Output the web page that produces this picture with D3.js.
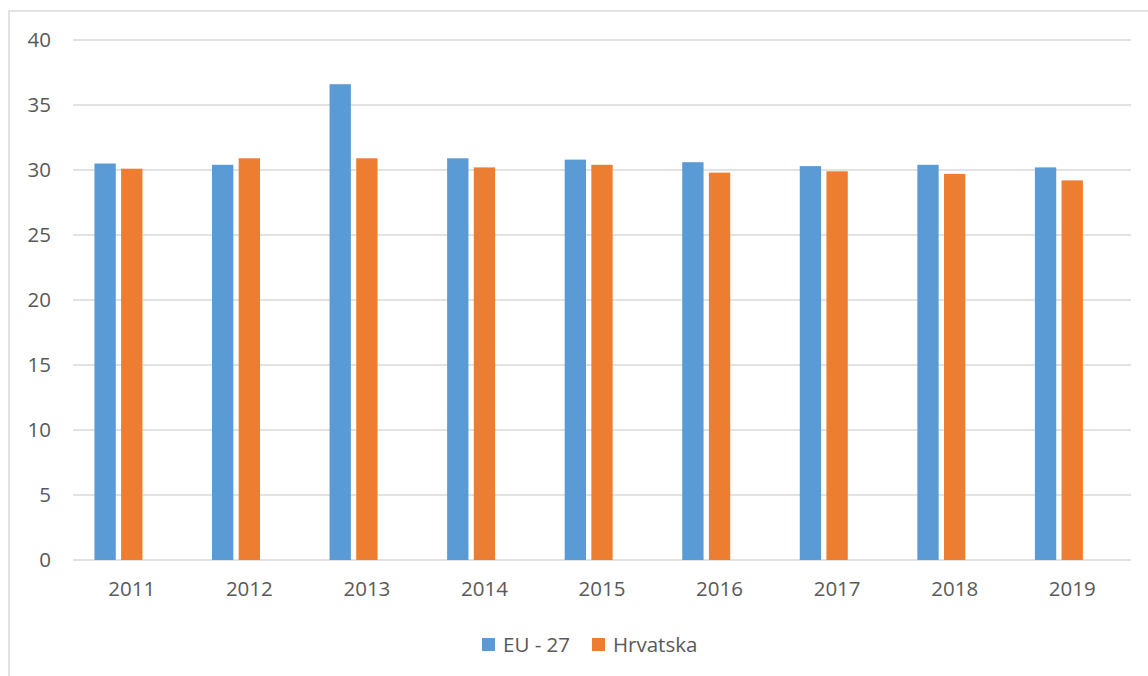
<!DOCTYPE html>
<html>
<head>
	<title>Grafikon</title>
	<meta charset='utf-8'>
	<style>
		body {
			margin: 0;
			background: #fff;
		}

		.frame {
			fill: none;
			stroke: #d9d9d9;
			stroke-width: 1.5px;
		}

		.grid line {
			stroke: #d9d9d9;
			stroke-width: 1.5px;
		}

		.axis text, .legend text {
			fill: #595959;
			font-family: 'Open Sans', sans-serif;
			font-size: 20.5px;
		}

		.axis path, .axis line {
			display: none;
		}
	</style>
</head>
<body>

<script src='https://d3js.org/d3.v7.min.js'></script>
<script>
	'use strict';

	// podaci
	const years = ['2011', '2012', '2013', '2014', '2015', '2016', '2017', '2018', '2019'];
	const seriesNames = ['EU - 27', 'Hrvatska'];
	const euValues = [30.5, 30.4, 36.6, 30.9, 30.8, 30.6, 30.3, 30.4, 30.2];
	const hrValues = [30.1, 30.9, 30.9, 30.2, 30.4, 29.8, 29.9, 29.7, 29.2];
	const yTicks = [0, 5, 10, 15, 20, 25, 30, 35, 40];
	const colors = ['#5b9bd5', '#ed7d31'];

	const width = 1148;
	const height = 676;
	const plot = {left: 73, right: 1131, top: 40, bottom: 560};

	const svg = d3.select('body').append('svg')
		.attr('width', width)
		.attr('height', height);

	// okvir grafikona (desni i donji rub su izvan slike)
	svg.append('rect')
		.attr('class', 'frame')
		.attr('x', 9)
		.attr('y', 11)
		.attr('width', width + 20)
		.attr('height', height + 20);

	const x0 = d3.scaleBand()
		.domain(years)
		.range([plot.left, plot.right]);

	// treći (prazan) niz zauzima mjesto kao u Excelu
	const x1 = d3.scaleBand()
		.domain(seriesNames.concat(['']))
		.range([x0.bandwidth() / 2 - 40, x0.bandwidth() / 2 + 40])
		.paddingInner(0.2)
		.paddingOuter(0.1);

	const y = d3.scaleLinear()
		.domain([0, 40])
		.range([plot.bottom, plot.top]);

	// mreža
	svg.append('g')
		.attr('class', 'grid')
		.selectAll('line')
		.data(yTicks)
		.join('line')
		.attr('x1', plot.left)
		.attr('x2', plot.right)
		.attr('y1', function(d) {return y(d);})
		.attr('y2', function(d) {return y(d);});

	svg.append('g')
		.attr('class', 'axis axis__y')
		.attr('transform', 'translate(' + (plot.left - 14) + ',0)')
		.call(d3.axisLeft(y).tickValues(yTicks).tickSize(0).tickPadding(8));

	svg.append('g')
		.attr('class', 'axis axis__x')
		.attr('transform', 'translate(0,' + plot.bottom + ')')
		.call(d3.axisBottom(x0).tickSize(0).tickPadding(21));

	const rows = years.map(function(yr, i) {
		return {year: yr, values: [euValues[i], hrValues[i]]};
	});

	const groups = svg.append('g')
		.selectAll('g')
		.data(rows)
		.join('g')
		.attr('transform', function(d) {return 'translate(' + x0(d.year) + ',0)';});

	groups.selectAll('rect')
		.data(function(d) {
			return d.values.map(function(v, i) {return {key: seriesNames[i], value: v, idx: i};});
		})
		.join('rect')
		.attr('x', function(d) {return x1(d.key);})
		.attr('width', x1.bandwidth())
		.attr('y', function(d) {return y(d.value);})
		.attr('height', function(d) {return y(0) - y(d.value);})
		.attr('fill', function(d) {return colors[d.idx];});

	// legenda
	const legend = svg.append('g')
		.attr('class', 'legend')
		.attr('transform', 'translate(482,638)');

	const legendOffsets = [0, 110];
	const items = legend.selectAll('g')
		.data(seriesNames)
		.join('g')
		.attr('transform', function(d, i) {return 'translate(' + legendOffsets[i] + ',0)';});

	items.append('rect')
		.attr('width', 13)
		.attr('height', 13)
		.attr('fill', function(d, i) {return colors[i];});

	items.append('text')
		.attr('x', 21)
		.attr('y', 13.5)
		.text(function(d) {return d;});
</script>
</body>
</html>
